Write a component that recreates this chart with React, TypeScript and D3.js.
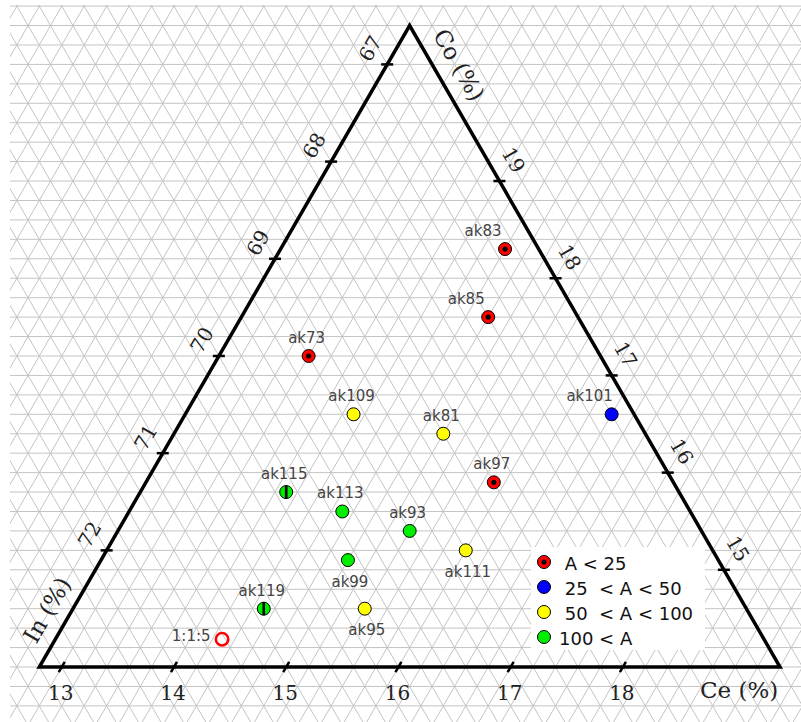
import React from 'react';
import * as d3 from 'd3';

// ---- axis limits (zoomed ternary region) ----
const CE_MIN = 12.8;
const CO_MIN = 14.0;
const IN_MIN = 66.6;
const SPAN = 100 - CE_MIN - CO_MIN - IN_MIN; // 6.6

// ---- tick labels ----
const ceTicks = [13, 14, 15, 16, 17, 18];
const coTicks = [15, 16, 17, 18, 19];
const inTicks = [67, 68, 69, 70, 71, 72];

// ---- samples ----
const names = ['ak83', 'ak85', 'ak73', 'ak109', 'ak81', 'ak101', 'ak97', 'ak115', 'ak113', 'ak93', 'ak111', 'ak99', 'ak95', 'ak119'];
const ceValues = [14.8, 15.0, 13.6, 14.3, 15.2, 16.6, 15.9, 14.1, 14.7, 15.4, 16.0, 15.0, 15.4, 14.5];
const coValues = [18.3, 17.6, 17.2, 16.6, 16.4, 16.6, 15.9, 15.8, 15.6, 15.4, 15.2, 15.1, 14.6, 14.6];
const inValues = [66.9, 67.4, 69.2, 69.1, 68.4, 66.8, 68.2, 70.1, 69.7, 69.2, 68.8, 69.9, 70.0, 70.9];
// activity class index into legend
const activityClass = [0, 0, 0, 2, 2, 1, 0, 3, 3, 3, 2, 3, 2, 3];
const barred = [false, false, false, false, false, false, false, true, false, false, false, false, false, true];
const labelPlacement = ['NW', 'NW', 'N', 'N', 'N', 'NW', 'N', 'N', 'N', 'N', 'S', 'S', 'S', 'N'];

// ---- reference composition ----
const refName = '1:1:5';
const refCe = 100 / 7;
const refCo = 100 / 7;
const refIn = 500 / 7;

// ---- legend ----
const legendLabels = [' A < 25', ' 25  < A < 50', ' 50  < A < 100', '100 < A'];
const legendColors = ['#ff0000', '#0000ff', '#ffff00', '#00ee00'];

// ---- geometry ----
const AX = 39.3;
const AY = 667;
const SIDE = 740.7;
const HEIGHT = (SIDE * Math.sqrt(3)) / 2;

const aScale = d3.scaleLinear().domain([CE_MIN, CE_MIN + SPAN]).range([0, 1]);
const cScale = d3.scaleLinear().domain([CO_MIN, CO_MIN + SPAN]).range([0, 1]);

function project(ce: number, co: number): [number, number] {
  const a = aScale(ce);
  const c = cScale(co);
  return [AX + (a + c / 2) * SIDE, AY - c * HEIGHT];
}

const SERIF = '"DejaVu Serif", serif';
const SANS = '"DejaVu Sans", sans-serif';

export default function App() {
  const line = d3.line();

  // grid lines at 0.2 steps, extended over the page
  const grid: string[] = [];
  for (let k = 0; k <= 250; k++) {
    const v = k / 5;
    grid.push(line([project(-40, v), project(140, v)]) as string);
    grid.push(line([project(v, -40), project(v, 140)]) as string);
    const inV = 50 + v;
    grid.push(line([project(100 - inV + 40, -40), project(100 - inV - 140, 140)]) as string);
  }

  const A = project(CE_MIN, CO_MIN);
  const B = project(CE_MIN + SPAN, CO_MIN);
  const C = project(CE_MIN, CO_MIN + SPAN);
  const tri = line([A, B, C]) + 'Z';

  const TL = 6;

  return (
    <svg width={801} height={722} style={{ position: 'absolute', left: 0, top: 0, background: '#fff' }}>
      <defs>
        <clipPath id="gridclip">
          <rect x={10} y={5} width={791} height={717} />
        </clipPath>
      </defs>
      <rect x={0} y={0} width={801} height={722} fill="#fff" />
      <g clipPath="url(#gridclip)" stroke="#c4c4c4" strokeWidth={1} fill="none">
        {grid.map((d, i) => (
          <path key={i} d={d} />
        ))}
      </g>

      {/* legend background */}
      <rect x={531} y={547} width={174} height={103} fill="#fff" />

      {/* triangle */}
      <path d={tri} fill="none" stroke="#000" strokeWidth={3.5} strokeLinejoin="miter" />

      {/* Ce ticks (bottom) */}
      {ceTicks.map((v) => {
        const [x, y] = project(v, CO_MIN);
        return (
          <g key={'ce' + v}>
            <line x1={x - 0.5 * TL} y1={y + 0.866 * TL} x2={x + 0.5 * TL} y2={y - 0.866 * TL} stroke="#000" strokeWidth={2.5} />
            <text x={x - 1} y={700} textAnchor="middle" fontFamily={SERIF} fontSize={20} fill="#222">
              {v}
            </text>
          </g>
        );
      })}
      {/* Co ticks (right) */}
      {coTicks.map((v) => {
        const [x, y] = project(100 - IN_MIN - v, v);
        const lx = x + 14;
        const ly = y - 21;
        return (
          <g key={'co' + v}>
            <line x1={x - TL} y1={y} x2={x + TL} y2={y} stroke="#000" strokeWidth={2.5} />
            <text x={lx} y={ly} textAnchor="middle" dominantBaseline="central" transform={`rotate(60 ${lx} ${ly})`} fontFamily={SERIF} fontSize={20} fill="#222">
              {v}
            </text>
          </g>
        );
      })}
      {/* In ticks (left) */}
      {inTicks.map((v) => {
        const [x, y] = project(CE_MIN, 100 - CE_MIN - v);
        const lx = x - 17;
        const ly = y - 16;
        return (
          <g key={'in' + v}>
            <line x1={x - TL} y1={y} x2={x + TL} y2={y} stroke="#000" strokeWidth={2.5} />
            <text x={lx} y={ly} textAnchor="middle" dominantBaseline="central" transform={`rotate(-60 ${lx} ${ly})`} fontFamily={SERIF} fontSize={20} fill="#222">
              {v}
            </text>
          </g>
        );
      })}

      {/* axis titles */}
      <text x={700} y={698} fontFamily={SERIF} fontSize={23} fill="#222">
        Ce (%)
      </text>
      <text x={47} y={610} textAnchor="middle" dominantBaseline="central" transform="rotate(-60 47 610)" fontFamily={SERIF} fontSize={23} fill="#222">
        In (%)
      </text>
      <text x={459} y={65} textAnchor="middle" dominantBaseline="central" transform="rotate(60 459 65)" fontFamily={SERIF} fontSize={23} fill="#222">
        Co (%)
      </text>

      {/* samples */}
      {names.map((n, i) => {
        const [x, y] = project(ceValues[i], coValues[i]);
        const cls = activityClass[i];
        const pl = labelPlacement[i];
        const lx = pl === 'NW' ? x - 22 : pl === 'S' ? x + 2 : x - 2;
        const ly = pl === 'S' ? y + 26.5 : y - 13;
        return (
          <g key={n}>
            <circle cx={x} cy={y} r={6.5} fill={legendColors[cls]} stroke="#000" strokeWidth={1} />
            {cls === 0 && <circle cx={x} cy={y} r={2.6} fill="#000" />}
            {barred[i] && <line x1={x} y1={y - 6.5} x2={x} y2={y + 6.5} stroke="#000" strokeWidth={2.6} />}
            <text x={lx} y={ly} textAnchor="middle" fontFamily={SANS} fontSize={15} fill="#444">
              {n}
            </text>
          </g>
        );
      })}

      {/* reference point */}
      {(() => {
        const [x, y] = project(refCe, refCo);
        return (
          <g>
            <circle cx={x} cy={y} r={6.2} fill="none" stroke="#ff0000" strokeWidth={2.6} />
            <text x={x - 11.5} y={y + 1.5} textAnchor="end" fontFamily={SANS} fontSize={15} fill="#444">
              {refName}
            </text>
          </g>
        );
      })()}

      {/* legend */}
      {legendLabels.map((l, i) => {
        const y = 562 + i * 25;
        return (
          <g key={l}>
            <circle cx={544} cy={y} r={6.5} fill={legendColors[i]} stroke="#000" strokeWidth={1} />
            {i === 0 && <circle cx={544} cy={y} r={2.6} fill="#000" />}
            <text x={559} y={y + 8} fontFamily={SANS} fontSize={18} fill="#111" style={{ whiteSpace: 'pre' }}>
              {l}
            </text>
          </g>
        );
      })}
    </svg>
  );
}
